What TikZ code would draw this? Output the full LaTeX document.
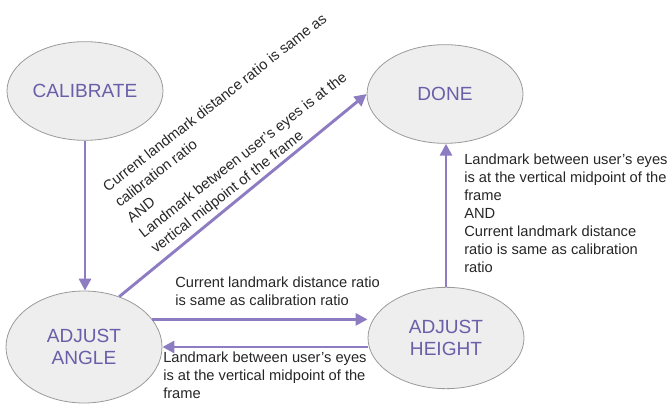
\documentclass[tikz,border=0pt]{standalone}
\usepackage{fontspec}
\setmainfont{Liberation Sans}
\usepackage{tikz}
\usetikzlibrary{arrows.meta, shapes.geometric}
\definecolor{stpurple}{HTML}{8E7CC3}
\definecolor{sttext}{HTML}{6A5EA8}
\definecolor{stfill}{HTML}{EEEEEE}
\definecolor{stedge}{HTML}{9A9A9A}

\begin{document}
\begin{tikzpicture}[x=0.75pt, y=-0.75pt,
  state/.style={ellipse, draw=stedge, fill=stfill, line width=0.6pt,
    minimum width=117pt, minimum height=74pt, inner sep=0pt, align=center,
    text=sttext, font=\fontsize{14.3}{16.5}\selectfont},
  flow/.style={draw=stpurple, line width=2.2pt, -{Triangle[length=9pt, width=9pt]}},
  cond/.style={align=left, inner sep=0pt, text=black!85,
    font=\fontsize{11}{13.5}\selectfont}]
  \useasboundingbox (0,0) rectangle (668,406);
  % the four states
  \node[state] (cal) at (85,91) {CALIBRATE};
  \node[state] (done) at (445,94) {DONE};
  \node[state, minimum height=84pt] (adjangle) at (84,347) {ADJUST\\ANGLE};
  \node[state, minimum height=76pt] (adjheight) at (446,338) {ADJUST\\HEIGHT};
  % transitions
  \draw[flow] (cal.south) -- (cal.south |- adjangle.north);
  \draw[flow] (adjangle.55) -- (done.west);
  \draw[flow] (adjangle.22) -- (adjangle.22 -| adjheight.west);
  \draw[flow] (adjheight.west |- adjangle.east) -- (adjangle.east);
  \draw[flow] (adjheight.north) -- (adjheight.north |- done.south);
  % conditions
  \node[cond, rotate=38, anchor=north west, font=\fontsize{11}{14.6}\selectfont]
    (diaglbl) at (101,184)
    {Current landmark distance ratio is same as\\calibration ratio\\AND\\
     Landmark between user's eyes is at the\\vertical midpoint of the frame};
  \node[cond, anchor=north west] (fwdlbl) at (175,277)
    {Current landmark distance ratio\\is same as calibration ratio};
  \node[cond, anchor=north west] (backlbl) at (163,352)
    {Landmark between user's eyes\\is at the vertical midpoint of the\\frame};
  \node[cond, anchor=north west] (uplbl) at (464,154)
    {Landmark between user's eyes\\is at the vertical midpoint of the\\frame\\AND\\
     Current landmark distance\\ratio is same as calibration\\ratio};
\end{tikzpicture}
\end{document}
